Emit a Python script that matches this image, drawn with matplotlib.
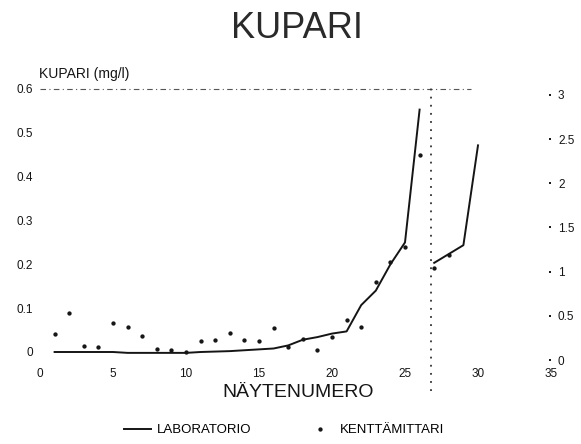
import numpy as np
import matplotlib

matplotlib.use("Agg")
import matplotlib.pyplot as plt
from matplotlib.lines import Line2D

plt.rcParams["font.family"] = ["Liberation Sans", "DejaVu Sans"]

# sample numbers
samples_a = [1, 2, 3, 4, 5, 6, 7, 8, 9, 10, 11, 12, 13, 14, 15, 16, 17, 18, 19, 20,
             21, 22, 23, 24, 25, 26]
samples_b = [27, 28, 29, 30]

# laboratory copper (mg/l), left axis for 1-26, right axis for 27-30
lab_a = [0.0, 0.0, 0.0, 0.0, 0.0, -0.002, -0.002, -0.002, -0.002, -0.002, 0.0, 0.001,
         0.002, 0.004, 0.006, 0.008, 0.015, 0.028, 0.034, 0.042, 0.047, 0.107, 0.14,
         0.20, 0.25, 0.553]
lab_b = [1.10, 1.20, 1.30, 2.43]

# field meter copper (mg/l)
field_a = [0.041, 0.089, 0.013, 0.011, 0.066, 0.057, 0.037, 0.007, 0.004, 0.0, 0.025,
           0.027, 0.043, 0.027, 0.025, 0.055, 0.012, 0.030, 0.004, 0.034, 0.073, 0.057,
           0.16, 0.205, 0.24, 0.45]
field_b = [1.04, 1.19, np.nan, np.nan]

left_ticks = [0, 0.1, 0.2, 0.3, 0.4, 0.5, 0.6]
left_labels = ["0", "0.1", "0.2", "0.3", "0.4", "0.5", "0.6"]
right_ticks = [0, 0.5, 1, 1.5, 2, 2.5, 3]
right_labels = ["0", "0.5", "1", "1.5", "2", "2.5", "3"]
x_ticks = [0, 5, 10, 15, 20, 25, 30, 35]
divider_x = 26.8

fig = plt.figure(figsize=(5.81, 4.44), dpi=100)
ax = fig.add_axes([0.06885, 0.17759, 0.87952, 0.65158])
ax2 = ax.twinx()

ax.set_xlim(0, 35)
ax.set_ylim(-0.03, 0.63)
ax2.set_ylim(-0.0583, 3.2168)

ink = "#151515"
ax.plot(samples_a, lab_a, color=ink, lw=1.4, clip_on=False)
ax2.plot(samples_b, lab_b, color=ink, lw=1.4, clip_on=False)
ax.plot(samples_a, field_a, ls="none", marker="o", ms=2.1, color=ink, clip_on=False)
ax2.plot(samples_b, field_b, ls="none", marker="o", ms=2.1, color=ink, clip_on=False)

# faint frame pieces left by the plotter
ax.plot([0, 29.5], [0.6, 0.6], color="#555555", lw=0.8, ls=(0, (5, 3, 1, 3)))
ax.plot([divider_x, divider_x], [-0.09, 0.605], color="#333333", lw=1.3,
        ls=(0, (1, 3.5)), clip_on=False)

for a in (ax, ax2):
    for s in a.spines.values():
        s.set_visible(False)

ax.set_xticks(x_ticks)
ax.set_xticklabels([str(t) for t in x_ticks])
ax.get_xticklabels()[0].set_color("#aaaaaa")
ax.set_yticks(left_ticks)
ax.set_yticklabels(left_labels)
ax.tick_params(axis="x", length=0, pad=2, labelsize=8.5, colors=ink)
ax.tick_params(axis="y", length=0, pad=5, labelsize=8.5, colors=ink)
ax2.set_yticks(right_ticks)
ax2.set_yticklabels(right_labels)
ax2.tick_params(axis="y", direction="in", length=1.2, width=1.4, pad=5,
                labelsize=8.5, colors=ink)

fig.text(297 / 581, 1 - 28 / 444, "KUPARI", ha="center", va="center",
         fontsize=26, color="#2a2a2a")
fig.text(39 / 581, 1 - 74 / 444, "KUPARI (mg/l)", ha="left", va="center",
         fontsize=10, color=ink)
fig.text(298 / 581, 1 - 392 / 444, "NÄYTENUMERO", ha="center", va="center",
         fontsize=14, color=ink)

handles = [Line2D([], [], color=ink, lw=1.4),
           Line2D([], [], ls="none", marker="o", ms=2.1, color=ink)]
fig.legend(handles, ["LABORATORIO", "KENTTÄMITTARI"], loc="center",
           bbox_to_anchor=(0.489, 1 - 430 / 444), ncol=2, frameon=False,
           fontsize=9.5, handlelength=2.05, handletextpad=0.45,
           columnspacing=4.2)

fig.savefig("out.png", dpi=100)
